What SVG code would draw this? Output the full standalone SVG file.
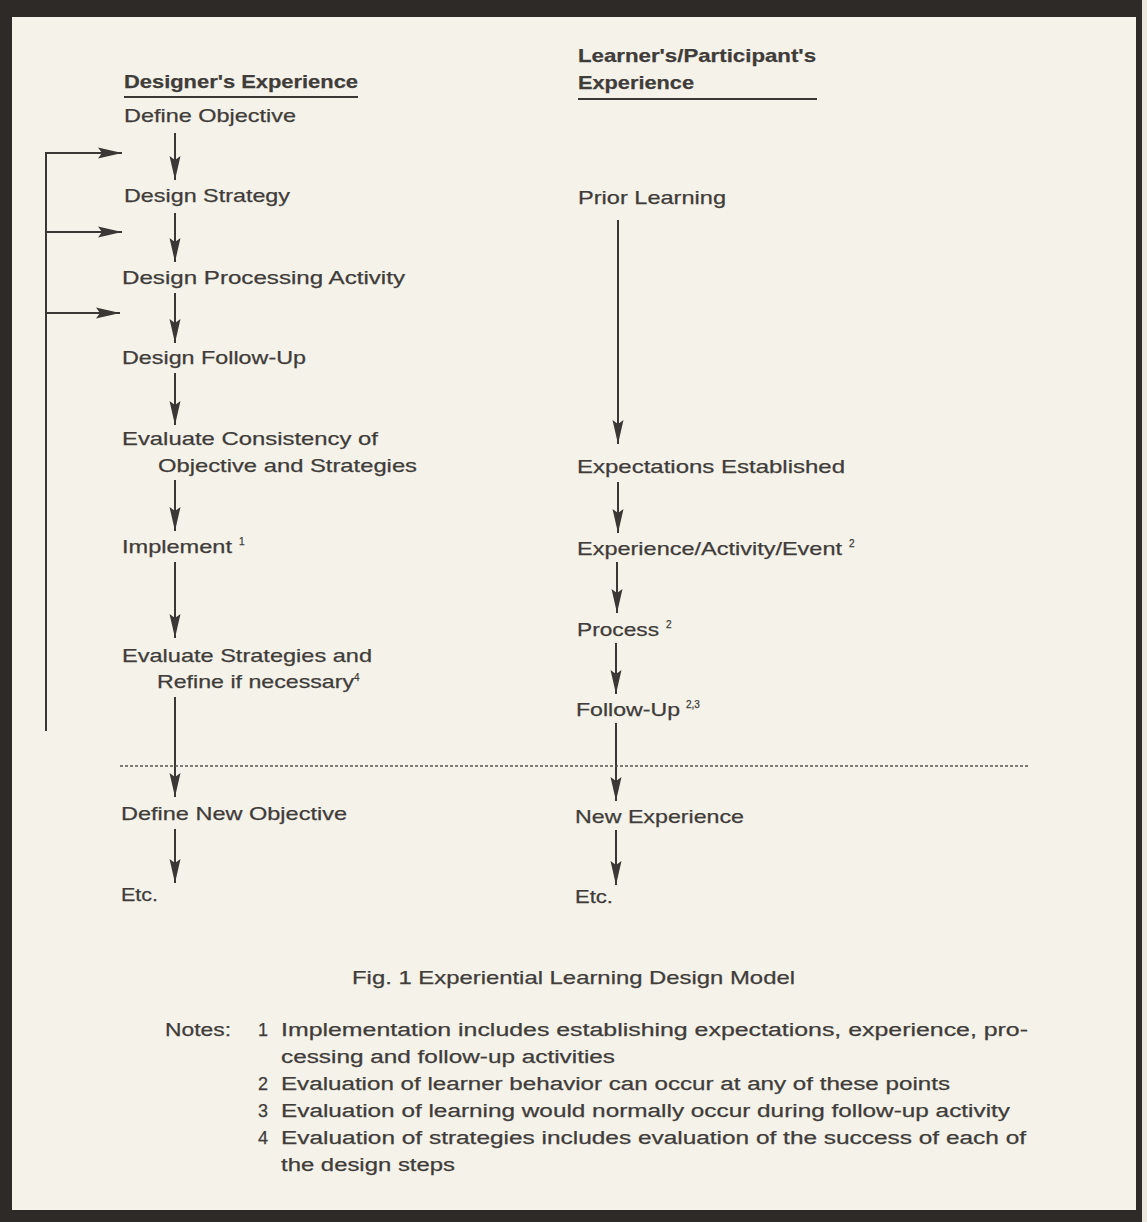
<svg xmlns="http://www.w3.org/2000/svg" width="1147" height="1222" viewBox="0 0 1147 1222">
<style>
text{font-family:"Liberation Sans",Arial,sans-serif;fill:#3f3c39;font-size:19px;stroke:#3f3c39;stroke-width:0.25}
.h{font-weight:bold}
.sup{font-size:10px}
.n{font-size:18px}
.ln{stroke:#3a3734;stroke-width:2;fill:none}
.dash{stroke:#58534e;stroke-width:1.6;stroke-dasharray:3 2;fill:none}
</style>
<defs>
<marker id="ah" markerUnits="userSpaceOnUse" viewBox="0 0 24 12" refX="24" refY="6" markerWidth="24" markerHeight="12" orient="auto">
<path d="M0,0.5 L24,6 L0,11.5 L4,6 z" fill="#3a3734"/>
</marker>
</defs>
<rect x="0" y="0" width="1147" height="1222" fill="#2e2a27"/>
<rect x="12" y="17" width="1124" height="1193" fill="#f5f2ea"/>
<rect x="1142" y="0" width="5" height="1222" fill="#ece8df"/>

<g id="designer-heading">
<text class="h" x="124" y="88" textLength="234" lengthAdjust="spacingAndGlyphs">Designer's Experience</text>
<line x1="124" y1="97" x2="358" y2="97" stroke="#3a3734" stroke-width="2"/>
</g>
<g id="learner-heading">
<text class="h" x="578" y="62" textLength="238" lengthAdjust="spacingAndGlyphs">Learner's/Participant's</text>
<text class="h" x="578" y="89" textLength="116" lengthAdjust="spacingAndGlyphs">Experience</text>
<line x1="578" y1="99" x2="817" y2="99" stroke="#3a3734" stroke-width="2"/>
</g>

<g id="define-objective"><text x="124" y="122" textLength="172" lengthAdjust="spacingAndGlyphs">Define Objective</text></g>
<g id="design-strategy"><text x="124" y="202" textLength="166" lengthAdjust="spacingAndGlyphs">Design Strategy</text></g>
<g id="design-processing"><text x="122" y="284" textLength="283" lengthAdjust="spacingAndGlyphs">Design Processing Activity</text></g>
<g id="design-followup"><text x="122" y="364" textLength="184" lengthAdjust="spacingAndGlyphs">Design Follow-Up</text></g>
<g id="evaluate-consistency">
<text x="122" y="445" textLength="256" lengthAdjust="spacingAndGlyphs">Evaluate Consistency of</text>
<text x="158" y="472" textLength="259" lengthAdjust="spacingAndGlyphs">Objective and Strategies</text>
</g>
<g id="implement">
<text x="122" y="553" textLength="110" lengthAdjust="spacingAndGlyphs">Implement</text>
<text class="sup" x="239" y="545">1</text>
</g>
<g id="evaluate-strategies">
<text x="122" y="662" textLength="250" lengthAdjust="spacingAndGlyphs">Evaluate Strategies and</text>
<text x="157" y="688" textLength="197" lengthAdjust="spacingAndGlyphs">Refine if necessary</text>
<text class="sup" x="354" y="681">4</text>
</g>
<g id="define-new-objective"><text x="121" y="820" textLength="226" lengthAdjust="spacingAndGlyphs">Define New Objective</text></g>
<g id="etc-left"><text x="121" y="901" textLength="37" lengthAdjust="spacingAndGlyphs">Etc.</text></g>

<g id="prior-learning"><text x="578" y="204" textLength="148" lengthAdjust="spacingAndGlyphs">Prior Learning</text></g>
<g id="expectations"><text x="577" y="473" textLength="268" lengthAdjust="spacingAndGlyphs">Expectations Established</text></g>
<g id="experience-activity">
<text x="577" y="555" textLength="265" lengthAdjust="spacingAndGlyphs">Experience/Activity/Event</text>
<text class="sup" x="849" y="547">2</text>
</g>
<g id="process">
<text x="577" y="636" textLength="82" lengthAdjust="spacingAndGlyphs">Process</text>
<text class="sup" x="666" y="628">2</text>
</g>
<g id="follow-up">
<text x="576" y="716" textLength="104" lengthAdjust="spacingAndGlyphs">Follow-Up</text>
<text class="sup" x="686" y="708">2,3</text>
</g>
<g id="new-experience"><text x="575" y="823" textLength="169" lengthAdjust="spacingAndGlyphs">New Experience</text></g>
<g id="etc-right"><text x="575" y="903" textLength="38" lengthAdjust="spacingAndGlyphs">Etc.</text></g>

<g id="connectors">
<line class="ln" x1="175" y1="133" x2="175" y2="180" marker-end="url(#ah)"/>
<line class="ln" x1="175" y1="213" x2="175" y2="262" marker-end="url(#ah)"/>
<line class="ln" x1="175" y1="293" x2="175" y2="343" marker-end="url(#ah)"/>
<line class="ln" x1="175" y1="373" x2="175" y2="425" marker-end="url(#ah)"/>
<line class="ln" x1="175" y1="480" x2="175" y2="531" marker-end="url(#ah)"/>
<line class="ln" x1="175" y1="562" x2="175" y2="638" marker-end="url(#ah)"/>
<line class="ln" x1="175" y1="697" x2="175" y2="797" marker-end="url(#ah)"/>
<line class="ln" x1="175" y1="829" x2="175" y2="883" marker-end="url(#ah)"/>
<polyline class="ln" points="46,731 46,153 122,153" marker-end="url(#ah)"/>
<line class="ln" x1="46" y1="232" x2="122" y2="232" marker-end="url(#ah)"/>
<line class="ln" x1="46" y1="313" x2="120" y2="313" marker-end="url(#ah)"/>
<line class="ln" x1="618" y1="220" x2="618" y2="444" marker-end="url(#ah)"/>
<line class="ln" x1="618" y1="482" x2="618" y2="533" marker-end="url(#ah)"/>
<line class="ln" x1="617" y1="562" x2="617" y2="613" marker-end="url(#ah)"/>
<line class="ln" x1="616" y1="643" x2="616" y2="694" marker-end="url(#ah)"/>
<line class="ln" x1="616" y1="723" x2="616" y2="801" marker-end="url(#ah)"/>
<line class="ln" x1="616" y1="830" x2="616" y2="885" marker-end="url(#ah)"/>
</g>
<line class="dash" x1="120" y1="766" x2="1028" y2="766"/>

<g id="caption"><text x="352" y="984" textLength="443" lengthAdjust="spacingAndGlyphs">Fig. 1 Experiential Learning Design Model</text></g>
<g id="notes">
<text class="n" x="165" y="1036" textLength="66" lengthAdjust="spacingAndGlyphs">Notes:</text>
<text class="n" x="258" y="1036">1</text>
<text class="n" x="281" y="1036" textLength="747" lengthAdjust="spacingAndGlyphs">Implementation includes establishing expectations, experience, pro-</text>
<text class="n" x="281" y="1063" textLength="334" lengthAdjust="spacingAndGlyphs">cessing and follow-up activities</text>
<text class="n" x="258" y="1090">2</text>
<text class="n" x="281" y="1090" textLength="669" lengthAdjust="spacingAndGlyphs">Evaluation of learner behavior can occur at any of these points</text>
<text class="n" x="258" y="1117">3</text>
<text class="n" x="281" y="1117" textLength="729" lengthAdjust="spacingAndGlyphs">Evaluation of learning would normally occur during follow-up activity</text>
<text class="n" x="258" y="1144">4</text>
<text class="n" x="281" y="1144" textLength="745" lengthAdjust="spacingAndGlyphs">Evaluation of strategies includes evaluation of the success of each of</text>
<text class="n" x="281" y="1171" textLength="174" lengthAdjust="spacingAndGlyphs">the design steps</text>
</g>
</svg>
